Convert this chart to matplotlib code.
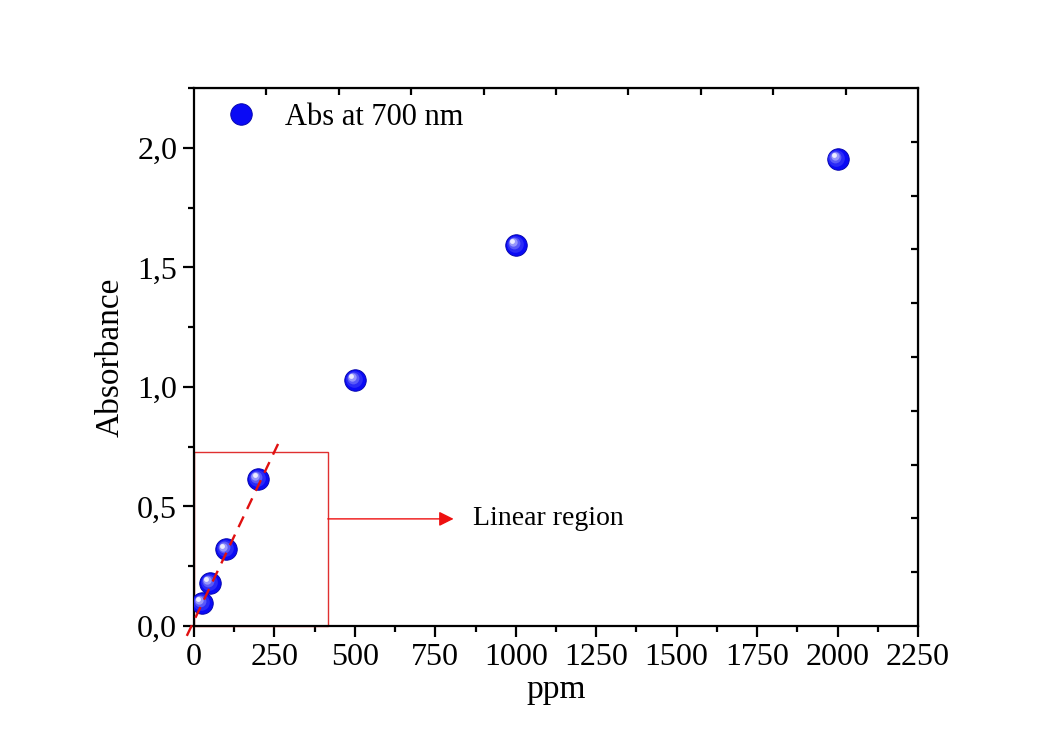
import numpy as np
import matplotlib
matplotlib.use("Agg")
import matplotlib.pyplot as plt
import matplotlib.transforms as mtransforms
from matplotlib.ticker import FuncFormatter, MultipleLocator
from matplotlib.patches import Rectangle, FancyArrowPatch

# ---- data ----
ppm = [25, 50, 100, 200, 500, 1000, 2000]
absorbance = [0.096, 0.18, 0.32, 0.615, 1.03, 1.594, 1.954]
series_label = "Abs at 700 nm"
fit_slope = 0.00283
fit_intercept = 0.021
fit_x = [-22, 262]
region_x = [0, 416]
region_y = [0, 0.728]
arrow_x = [416, 807]
arrow_y = 0.448
region_label = "Linear region"
x_label = "ppm"
y_label = "Absorbance"
x_ticks = [0, 250, 500, 750, 1000, 1250, 1500, 1750, 2000, 2250]
y_ticks = [0.0, 0.5, 1.0, 1.5, 2.0]

plt.rcParams['font.family'] = ['Liberation Serif', 'DejaVu Serif']

fig = plt.figure(figsize=(10.48, 7.44), dpi=100)
ax = fig.add_axes([0.185, 0.1586, 0.691, 0.7231])
ax.set_xlim(0, 2250)
ax.set_ylim(0, 2.25)

for s in ax.spines.values():
    s.set_linewidth(1.6)

ax.set_xticks(x_ticks)
ax.set_yticks(y_ticks)
ax.xaxis.set_minor_locator(MultipleLocator(125))
ax.yaxis.set_minor_locator(MultipleLocator(0.25))
ax.yaxis.set_major_formatter(FuncFormatter(lambda v, p: f"{v:.1f}".replace('.', ',')))
ax.tick_params(which='major', direction='out', length=8, width=1.6, labelsize=23, pad=4)
ax.tick_params(which='minor', direction='out', length=4.5, width=1.6)

# top / right axes with inner ticks
sx = ax.secondary_xaxis('top')
sx.set_xticks(np.arange(225, 2250, 225))
sx.tick_params(direction='in', length=5, width=1.6, labeltop=False)
sx.xaxis.set_minor_locator(plt.NullLocator())
sy = ax.secondary_yaxis('right')
sy.set_yticks(np.arange(0.225, 2.25, 0.225))
sy.tick_params(direction='in', length=5, width=1.6, labelright=False)
sy.yaxis.set_minor_locator(plt.NullLocator())

ax.set_xlabel(x_label, fontsize=24, labelpad=2)
ax.set_ylabel(y_label, fontsize=24, labelpad=8)

# linear region box
ax.add_patch(Rectangle((region_x[0], region_y[0]), region_x[1] - region_x[0],
                       region_y[1] - region_y[0], fill=False, edgecolor='#e03030',
                       linewidth=1.0, zorder=2, clip_on=False))
ax.add_patch(FancyArrowPatch((arrow_x[0], arrow_y), (arrow_x[1], arrow_y),
                             arrowstyle='-|>', mutation_scale=22, color='#ee1010',
                             linewidth=1.0, shrinkA=0, shrinkB=0, zorder=2))
ax.text(866, arrow_y, region_label, fontsize=20, va='center', ha='left')

# fit line (drawn over the spheres)
fx = np.array(fit_x, dtype=float)
ax.plot(fx, fit_intercept + fit_slope * fx, color='#e01010', linestyle=(0, (5, 3.5)),
        linewidth=1.7, zorder=6, clip_on=False)

# spheres
h, = ax.plot(ppm, absorbance, 'o', markersize=15.5, color='#0a0af5',
             markeredgecolor='#0000a8', markeredgewidth=0.6, zorder=4, label=series_label)
layers = [(12, '#2a2af6', -0.8, 0.8), (8.5, '#5a5af8', -1.6, 1.6), (6, '#9898fb', -2.1, 2.1),
          (3.5, '#ececff', -2.6, 2.6)]
for ms, c, dx, dy in layers:
    tr = mtransforms.offset_copy(ax.transData, fig=fig, x=dx, y=dy, units='points')
    ax.plot(ppm, absorbance, 'o', markersize=ms, color=c, markeredgewidth=0,
            transform=tr, zorder=5)

ax.legend(handles=[h], loc='upper left', bbox_to_anchor=(0.0145, 1.0124), frameon=False,
          fontsize=22, handlelength=1.0, handletextpad=0.93, borderaxespad=0.3)

fig.savefig('out.png', dpi=100, facecolor='white')
